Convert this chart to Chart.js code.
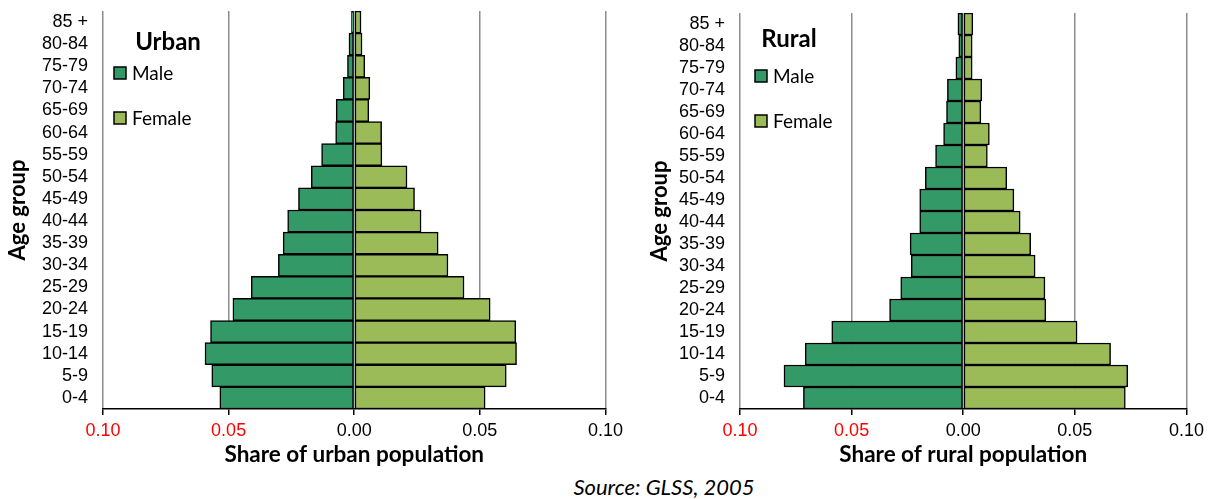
<!DOCTYPE html>
<html>
<head>
<meta charset="utf-8">
<script src="https://cdn.jsdelivr.net/npm/chart.js@4/dist/chart.umd.min.js"></script>
<style>
  body { margin: 0; background: #fff; }
  #wrap { position: relative; width: 1209px; height: 499px; }
  canvas { position: absolute; top: 0; }
  #urban { left: 0; }
  #rural { left: 620px; }
  #source { position: absolute; left: 0; width: 1328px; top: 473px; text-align: center;
            font: italic 22px Lato, sans-serif; color: #000; }
</style>
</head>
<body>
<div id="wrap">
  <canvas id="urban" width="628" height="470"></canvas>
  <canvas id="rural" width="589" height="470"></canvas>
  <div id="source">Source: GLSS, 2005</div>
</div>
<script>
// age groups, top of pyramid first
const ageGroups = ["85 +", "80-84", "75-79", "70-74", "65-69", "60-64", "55-59", "50-54", "45-49",
                   "40-44", "35-39", "30-34", "25-29", "20-24", "15-19", "10-14", "5-9", "0-4"]
// shares
const urbanMale   = [0.0011, 0.0021, 0.0027, 0.0044, 0.0072, 0.0074, 0.0130, 0.0171, 0.0222,
                     0.0265, 0.0283, 0.0302, 0.0410, 0.0483, 0.0572, 0.0594, 0.0567, 0.0535]
const urbanFemale = [0.0027, 0.0031, 0.0042, 0.0062, 0.0058, 0.0109, 0.0110, 0.0210, 0.0240,
                     0.0266, 0.0334, 0.0373, 0.0437, 0.0541, 0.0643, 0.0646, 0.0605, 0.0521]
const ruralMale   = [0.0024, 0.0020, 0.0033, 0.0071, 0.0075, 0.0088, 0.0124, 0.0170, 0.0195,
                     0.0195, 0.0238, 0.0233, 0.0280, 0.0330, 0.0589, 0.0708, 0.0803, 0.0716]
const ruralFemale = [0.0043, 0.0040, 0.0040, 0.0083, 0.0079, 0.0117, 0.0108, 0.0195, 0.0227,
                     0.0255, 0.0302, 0.0322, 0.0366, 0.0370, 0.0510, 0.0660, 0.0737, 0.0726]
const xTicks = [-0.10, -0.05, 0.00, 0.05, 0.10]

const maleColor = "#339966"
const femaleColor = "#9bbb59"

// little legend drawn inside the plot, like the original
const boxLegend = {
    id: "boxLegend",
    afterDraw(chart, args, opts) {
        const ctx = chart.ctx
        ctx.save()
        ctx.fillStyle = "#000"
        ctx.font = "bold 24px Lato"
        ctx.textAlign = "center"
        ctx.textBaseline = "middle"
        ctx.fillText(opts.title, opts.titleX, opts.titleY)
        ctx.font = "19px Lato"
        ctx.textAlign = "left"
        chart.data.datasets.forEach(function(ds, i){
            let y = opts.itemY + i * opts.gap
            ctx.fillStyle = ds.backgroundColor
            ctx.fillRect(opts.boxX, y - 6, 12, 12)
            ctx.lineWidth = 1.5
            ctx.strokeStyle = "#000"
            ctx.strokeRect(opts.boxX, y - 6, 12, 12)
            ctx.fillStyle = "#000"
            ctx.fillText(ds.label, opts.boxX + 18, y + 1)
        })
        ctx.restore()
    }
}

function pyramid(id, male, female, xTitle, yWidth, yTitlePad, topPad, legend) {
    return new Chart(id, {
        type: "bar",
        data: {
            labels: ageGroups,
            datasets: [{
                label: "Male",
                data: male.map(v => -v),
                backgroundColor: maleColor,
                borderColor: "#000",
                borderWidth: 1.5,
                borderSkipped: false,
                categoryPercentage: 1,
                barPercentage: 1
            }, {
                label: "Female",
                data: female,
                backgroundColor: femaleColor,
                borderColor: "#000",
                borderWidth: 1.5,
                borderSkipped: false,
                categoryPercentage: 1,
                barPercentage: 1
            }]
        },
        options: {
            indexAxis: "y",
            responsive: false,
            animation: false,
            devicePixelRatio: 1,
            layout: { padding: { top: topPad, right: 0, left: 0, bottom: 0 } },
            plugins: {
                legend: { display: false },
                tooltip: { enabled: false },
                boxLegend: legend
            },
            scales: {
                x: {
                    stacked: true,
                    min: -0.1,
                    max: 0.1,
                    afterBuildTicks: function(scale){ scale.ticks = xTicks.map(v => ({value: v})) },
                    afterFit: function(scale){ scale.height = 61 },
                    grid: { color: "#8c8c8c", lineWidth: 1.5, tickColor: "#000", tickLength: 6, tickWidth: 1.5 },
                    border: { display: true, color: "#000", width: 1.5 },
                    ticks: {
                        padding: 5,
                        font: { family: "Liberation Sans", size: 18 },
                        color: c => c.tick.value < 0 ? "#ff0000" : "#000",
                        callback: v => Math.abs(v).toFixed(2)
                    },
                    title: {
                        display: true,
                        text: xTitle,
                        color: "#000",
                        font: { family: "Lato", size: 22.5, weight: "bold" },
                        padding: { top: 0, bottom: 2 }
                    }
                },
                y: {
                    stacked: true,
                    afterFit: function(scale){ scale.width = yWidth },
                    // tick marks hidden; their length only makes the gap before the labels
                    grid: { display: false, drawTicks: true, tickLength: 15 },
                    border: { display: false },
                    ticks: {
                        padding: 0,
                        autoSkip: false,
                        font: { family: "Liberation Sans", size: 18 },
                        color: "#000"
                    },
                    title: {
                        display: true,
                        text: "Age group",
                        color: "#000",
                        font: { family: "Lato", size: 22, weight: "bold" },
                        padding: { top: yTitlePad, bottom: 0 }
                    }
                }
            }
        },
        plugins: [boxLegend]
    })
}

pyramid("urban", urbanMale, urbanFemale, "Share of urban population", 103, 5, 11,
    { title: "Urban", titleX: 168, titleY: 42, boxX: 114, itemY: 73, gap: 45 })
pyramid("rural", ruralMale, ruralFemale, "Share of rural population", 120, 27, 13,
    { title: "Rural", titleX: 169, titleY: 39, boxX: 135, itemY: 76, gap: 45 })
</script>
</body>
</html>
